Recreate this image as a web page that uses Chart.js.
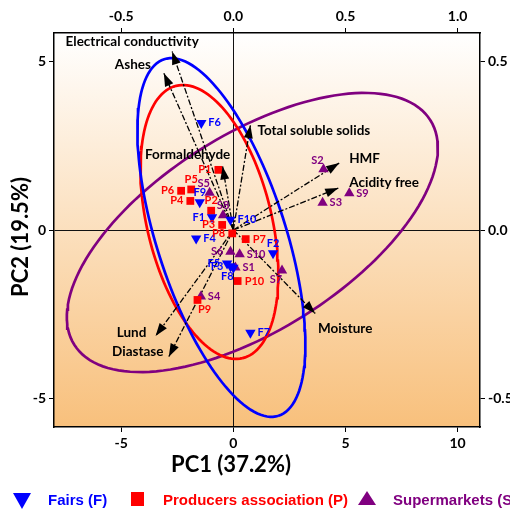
<!DOCTYPE html>
<html lang="en">
<head>
<meta charset="UTF-8">
<title>PCA biplot</title>
<script src="https://cdn.jsdelivr.net/npm/chart.js@4.4.0/dist/chart.umd.min.js"></script>
<style>
  html, body { margin: 0; padding: 0; background: #fff; }
  .wrap { width: 510px; height: 513px; }
</style>
</head>
<body>
<div class="wrap"><canvas id="biplot" width="510" height="513"></canvas></div>
<script>
// scores (PC1, PC2)
const fairNames = ['F1', 'F2', 'F3', 'F4', 'F5', 'F6', 'F7', 'F8', 'F9', 'F10'];
const fairPC1 = [-0.95, 1.77, -0.13, -1.66, -0.28, -1.43, 0.76, 0.0, -1.5, -0.13];
const fairPC2 = [0.38, -0.69, -1.07, -0.25, -0.99, 3.17, -3.04, -1.12, 0.82, 0.30];

const prodNames = ['P1', 'P2', 'P3', 'P4', 'P5', 'P6', 'P7', 'P8', 'P9', 'P10'];
const prodPC1 = [-0.67, -0.99, -0.50, -1.92, -1.88, -2.33, 0.55, -0.05, -1.6, 0.19];
const prodPC2 = [1.78, 0.57, 0.15, 0.86, 1.20, 1.16, -0.27, -0.10, -2.07, -1.51];

const superNames = ['S1', 'S2', 'S3', 'S4', 'S5', 'S6', 'S7', 'S8', 'S9', 'S10'];
const superPC1 = [0.09, 4.02, 3.98, -1.45, -1.06, -0.13, 2.17, -0.46, 5.17, 0.28];
const superPC2 = [-1.11, 1.80, 0.81, -1.97, 1.10, -0.64, -1.20, 0.44, 1.09, -0.72];

// loadings (top / right axes)
const variables = ['Electrical conductivity', 'Ashes', 'Total soluble solids', 'Formaldehyde',
  'HMF', 'Acidity free', 'Moisture', 'Lund', 'Diastase'];
const loadPC1 = [-0.273, -0.310, 0.076, -0.048, 0.472, 0.468, 0.365, -0.347, -0.288];
const loadPC2 = [0.528, 0.464, 0.310, 0.188, 0.198, 0.124, -0.247, -0.314, -0.375];

// ellipses: centre x, centre y, semi-axis 1 (x, y), semi-axis 2 (x, y)
const fairEllipse = [-0.535, -0.222, 2.55, -5.275, 2.744, 0.585];
const prodEllipse = [-1.069, 0.237, 1.479, -4.03, 2.695, 0.436];
const superEllipse = [0.846, -0.074, 7.94, 3.323, 2.327, -2.453];

const pc1Ticks = [-5, 0, 5, 10];
const pc2Ticks = [-5, 0, 5];
const load1Ticks = [-0.5, 0, 0.5, 1.0];
const load2Ticks = [-0.5, 0, 0.5];

const BLUE = '#0000ff', RED = '#ff0000', PURPLE = '#800080';

// label placement around each marker
const nameSide = {
  F1: 'l', F2: 't', F3: 'l', F4: 'r', F5: 'l', F6: 'r', F7: 'r', F8: 'bl', F9: 't', F10: 'r',
  P1: 'l', P2: 't', P3: 'l', P4: 'l', P5: 't', P6: 'l', P7: 'r', P8: 'l', P9: 'br', P10: 'r',
  S1: 'r', S2: 'tl', S3: 'r', S4: 'r', S5: 'tl', S6: 'l', S7: 'bl', S8: 't', S9: 'r', S10: 'r'
};
// variable label offsets from arrow tip [dx, dy, align]
const varLabelPos = [
  [-40, -10, 'center'], [-31, -9, 'center'], [7, 5, 'left'], [-35, -12, 'center'],
  [10, -4, 'left'], [11, -5, 'left'], [30, 15, 'center'], [-24, -3, 'center'], [-31, -5, 'center']
];

const pts = (xs, ys) => xs.map((x, i) => ({x: x, y: ys[i]}));
const ellipsePts = (e) => {
  const out = [];
  for (let i = 0; i <= 144; i++) {
    const t = i / 144 * Math.PI * 2;
    out.push({x: e[0] + e[2] * Math.cos(t) + e[4] * Math.sin(t),
              y: e[1] + e[3] * Math.cos(t) + e[5] * Math.sin(t)});
  }
  return out;
};

const datasets = [
  {data: pts(fairPC1, fairPC2), names: fairNames, nameColor: BLUE, pointStyle: 'triangle', rotation: 180,
   pointRadius: 6, backgroundColor: BLUE, borderColor: BLUE, borderWidth: 0, order: 0},
  {data: pts(prodPC1, prodPC2), names: prodNames, nameColor: RED, pointStyle: 'rect',
   pointRadius: 5.5, backgroundColor: RED, borderColor: RED, borderWidth: 0, order: 0},
  {data: pts(superPC1, superPC2), names: superNames, nameColor: PURPLE, pointStyle: 'triangle',
   pointRadius: 6, backgroundColor: PURPLE, borderColor: PURPLE, borderWidth: 0, order: 0}
];
variables.forEach((v, i) => {
  datasets.push({data: [{x: 0, y: 0}, {x: loadPC1[i], y: loadPC2[i]}], arrow: i,
    xAxisID: 'x2', yAxisID: 'y2', showLine: true, pointRadius: 0, borderColor: '#000',
    borderWidth: 1.3, borderDash: [6, 2, 2, 2], order: 1});
});
[[fairEllipse, BLUE], [prodEllipse, RED], [superEllipse, PURPLE]].forEach(([e, c]) => {
  datasets.push({data: ellipsePts(e), showLine: true, pointRadius: 0, borderColor: c,
    borderWidth: 2.7, tension: 0, order: 2});
});

const bgPlugin = {
  id: 'bg',
  beforeDraw(chart) {
    const {ctx, chartArea: a} = chart;
    const g = ctx.createLinearGradient(0, a.top, 0, a.bottom);
    g.addColorStop(0, '#ffffff');
    g.addColorStop(1, '#f8c07c');
    ctx.save();
    ctx.fillStyle = g;
    ctx.fillRect(a.left, a.top, a.right - a.left, a.bottom - a.top);
    ctx.restore();
  }
};

const textPlugin = {
  id: 'texts',
  afterDatasetsDraw(chart) {
    const ctx = chart.ctx;
    ctx.save();
    chart.data.datasets.forEach((ds, di) => {
      const meta = chart.getDatasetMeta(di);
      if (ds.arrow !== undefined) {
        const p0 = meta.data[0], p1 = meta.data[1];
        const ang = Math.atan2(p1.y - p0.y, p1.x - p0.x);
        const L = 13, W = 4.5;
        ctx.fillStyle = '#000';
        ctx.beginPath();
        ctx.moveTo(p1.x, p1.y);
        ctx.lineTo(p1.x - L * Math.cos(ang) + W * Math.sin(ang), p1.y - L * Math.sin(ang) - W * Math.cos(ang));
        ctx.lineTo(p1.x - L * Math.cos(ang) - W * Math.sin(ang), p1.y - L * Math.sin(ang) + W * Math.cos(ang));
        ctx.closePath();
        ctx.fill();
        const lp = varLabelPos[ds.arrow];
        ctx.font = 'bold 13.5px Lato';
        ctx.textAlign = lp[2];
        ctx.textBaseline = 'middle';
        ctx.fillText(variables[ds.arrow], p1.x + lp[0], p1.y + lp[1]);
      }
    });
    chart.data.datasets.forEach((ds, di) => {
      if (!ds.names) return;
      const meta = chart.getDatasetMeta(di);
      ctx.font = 'bold 11px Lato';
      ctx.fillStyle = ds.nameColor;
      ctx.textBaseline = 'middle';
      ds.names.forEach((n, i) => {
        const p = meta.data[i];
        const s = nameSide[n];
        let x = p.x, y = p.y, al = 'center';
        if (s === 'r') { x += 7; al = 'left'; }
        else if (s === 'l') { x -= 7; al = 'right'; }
        else if (s === 't') { y -= 10; }
        else if (s === 'b') { y += 10; }
        else if (s === 'tl') { x -= 6; y -= 9; }
        else if (s === 'bl') { x -= 6; y += 9; }
        else if (s === 'br') { x += 7; y += 10; }
        ctx.textAlign = al;
        ctx.fillText(n, x, y);
      });
    });
    ctx.restore();
  },
  afterDraw(chart) {
    const ctx = chart.ctx;
    ctx.save();
    ctx.fillStyle = '#000';
    ctx.font = 'bold 22px Lato';
    ctx.textAlign = 'center';
    ctx.textBaseline = 'middle';
    ctx.fillText('PC1 (37.2%)', 231, 465);
    ctx.translate(21, 237);
    ctx.rotate(-Math.PI / 2);
    ctx.fillText('PC2 (19.5%)', 0, 0);
    ctx.restore();

    // legend
    ctx.save();
    ctx.font = 'bold 15px "Liberation Sans", Arial';
    ctx.textBaseline = 'middle';
    ctx.textAlign = 'left';
    ctx.fillStyle = BLUE;
    ctx.beginPath();
    ctx.moveTo(13, 493); ctx.lineTo(31, 493); ctx.lineTo(22, 509); ctx.closePath(); ctx.fill();
    ctx.fillText('Fairs (F)', 48, 501);
    ctx.fillStyle = RED;
    ctx.fillRect(131, 492, 13, 14);
    ctx.fillText('Producers association (P)', 163, 501);
    ctx.fillStyle = PURPLE;
    ctx.beginPath();
    ctx.moveTo(358, 505); ctx.lineTo(376, 505); ctx.lineTo(367, 491); ctx.closePath(); ctx.fill();
    ctx.fillText('Supermarkets (S)', 393, 501);
    ctx.restore();
  }
};

const tickFont = {family: 'Lato', size: 14, weight: 'bold'};
const zeroGrid = {
  color: (c) => (c.tick && c.tick.value === 0) ? '#111' : 'rgba(0,0,0,0)',
  tickColor: '#000', tickLength: 5, lineWidth: 1
};
const sideGrid = {drawOnChartArea: false, tickColor: '#000', tickLength: 5};
const axisBorder = {display: true, color: '#000', width: 1.5};

new Chart(document.getElementById('biplot'), {
  type: 'scatter',
  data: {datasets: datasets},
  options: {
    responsive: false,
    animation: false,
    events: [],
    layout: {padding: 0},
    plugins: {legend: {display: false}, tooltip: {enabled: false}},
    scales: {
      x: {
        type: 'linear', position: 'bottom', min: -8, max: 11,
        afterBuildTicks: (s) => { s.ticks = pc1Ticks.map(v => ({value: v})); },
        afterFit: (s) => { s.height = 86; },
        ticks: {font: tickFont, color: '#000', padding: 3, maxRotation: 0, callback: (v) => String(v)},
        grid: zeroGrid, border: axisBorder
      },
      x2: {
        type: 'linear', position: 'top', min: -0.8, max: 1.1,
        afterBuildTicks: (s) => { s.ticks = load1Ticks.map(v => ({value: v})); },
        afterFit: (s) => { s.height = 33; },
        ticks: {font: tickFont, color: '#000', padding: 3, maxRotation: 0, callback: (v) => v.toFixed(1)},
        grid: sideGrid, border: axisBorder
      },
      y: {
        type: 'linear', position: 'left', min: -5.83, max: 5.83,
        afterBuildTicks: (s) => { s.ticks = pc2Ticks.map(v => ({value: v})); },
        afterFit: (s) => { s.width = 54; },
        ticks: {font: tickFont, color: '#000', padding: 3, callback: (v) => String(v)},
        grid: zeroGrid, border: axisBorder
      },
      y2: {
        type: 'linear', position: 'right', min: -0.583, max: 0.583,
        afterBuildTicks: (s) => { s.ticks = load2Ticks.map(v => ({value: v})); },
        afterFit: (s) => { s.width = 30; },
        ticks: {font: tickFont, color: '#000', padding: 3, callback: (v) => v.toFixed(1)},
        grid: sideGrid, border: axisBorder
      }
    }
  },
  plugins: [bgPlugin, textPlugin]
});
</script>
</body>
</html>
